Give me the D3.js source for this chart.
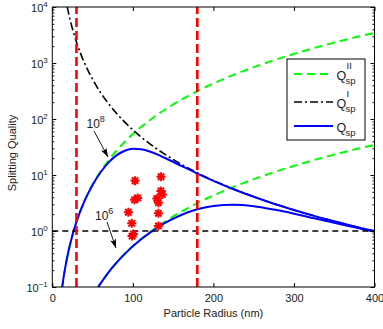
<!DOCTYPE html>
<html>
<head>
<meta charset="utf-8">
<script src="https://cdn.jsdelivr.net/npm/d3@7"></script>
<style>
  body { margin: 0; background: #fff; }
  svg { display: block; font-family: Arial, "Liberation Sans", sans-serif; }
</style>
</head>
<body>
<svg id="chart"></svg>
<script>
const radius = [12, 15, 20, 25, 30, 40, 50, 60, 70, 80, 90, 100, 110, 120, 130, 140, 160, 180, 200, 225, 250, 275, 300, 325, 350, 375, 400];

// Q_sp^I  (dash-dot, black)
const qI = [37037, 18963, 8000, 4096, 2370, 1000, 512, 296, 186.6, 125, 87.8, 64, 48.1, 37.0, 29.1, 23.3, 15.6, 10.97, 8, 5.62, 4.10, 3.08, 2.37, 1.86, 1.49, 1.21, 1];

// Q_sp^II (dashed, green), upper (10^8) and lower (10^6)
const qII8 = [0.093, 0.182, 0.431, 0.842, 1.455, 3.45, 6.74, 11.64, 18.49, 27.6, 39.3, 53.9, 71.8, 93.2, 118.4, 147.9, 220.8, 314.4, 431, 614, 842, 1121, 1455, 1850, 2311, 2843, 3450];
const qII6 = [0.00093, 0.00182, 0.00431, 0.00842, 0.01455, 0.0345, 0.0674, 0.1164, 0.1849, 0.276, 0.393, 0.539, 0.718, 0.932, 1.184, 1.479, 2.208, 3.144, 4.31, 6.14, 8.42, 11.21, 14.55, 18.50, 23.11, 28.43, 34.5];

// Q_sp (solid, blue)
const qSp8 = [0.093, 0.182, 0.431, 0.842, 1.454, 3.44, 6.65, 11.2, 16.8, 22.6, 27.1, 29.3, 28.8, 26.5, 23.4, 20.1, 14.6, 10.6, 7.85, 5.57, 4.08, 3.07, 2.37, 1.86, 1.49, 1.21, 1.0];
const qSp6 = [0.00093, 0.0018, 0.0043, 0.0084, 0.0146, 0.0345, 0.0674, 0.116, 0.185, 0.276, 0.391, 0.534, 0.706, 0.909, 1.14, 1.39, 1.93, 2.44, 2.80, 2.93, 2.76, 2.41, 2.04, 1.69, 1.40, 1.16, 0.97];

// measured points (red asterisks)
const measRadius = [102.7, 135, 106, 102, 136.6, 129.7, 131.7, 94.4, 131.7, 98.6, 131.7, 100.6, 99, 134.8];
const measQ = [7.9, 9.3, 3.9, 3.6, 4.5, 3.8, 3.2, 2.16, 2.07, 1.37, 1.23, 0.88, 0.81, 5.2];

// vertical limits (nm) and threshold line
const limitRadius = [30, 180];
const thresholdQ = 1;

const xTicks = [0, 100, 200, 300, 400];
const yExponents = [-1, 0, 1, 2, 3, 4];
const legendSup = ["II", "I", ""];

const W = 383, H = 329;
const margin = { top: 7, right: 8.5, bottom: 42, left: 52.3 };
const x0 = margin.left, x1 = W - margin.right;
const y0 = margin.top, y1 = H - margin.bottom;

const svg = d3.select("#chart").attr("width", W).attr("height", H);

const x = d3.scaleLinear().domain([0, 400]).range([x0, x1]);
const y = d3.scaleLog().domain([0.1, 1e4]).range([y1, y0]);

svg.append("defs").append("clipPath").attr("id", "plot")
  .append("rect").attr("x", x0).attr("y", y0).attr("width", x1 - x0).attr("height", y1 - y0);

svg.select("defs").append("marker")
  .attr("id", "arrow")
  .attr("markerUnits", "userSpaceOnUse")
  .attr("markerWidth", 12).attr("markerHeight", 10)
  .attr("refX", 9).attr("refY", 0)
  .attr("viewBox", "-1 -5 12 10")
  .attr("orient", "auto")
  .append("path")
  .attr("d", "M0,-3L9,0L0,3L2,0Z")
  .attr("fill", "#000");

const plot = svg.append("g").attr("clip-path", "url(#plot)");

const line = (vals) => d3.line()
  .x((d, i) => x(radius[i]))
  .y((d) => y(d))
  .curve(d3.curveMonotoneX)(vals);

// Q^II (green dashed)
[qII8, qII6].forEach((vals) => {
  plot.append("path").attr("d", line(vals))
    .attr("fill", "none").attr("stroke", "#00ff00")
    .attr("stroke-width", 2).attr("stroke-dasharray", "8,5");
});

// Q^I (black dash-dot)
plot.append("path").attr("d", line(qI))
  .attr("fill", "none").attr("stroke", "#000")
  .attr("stroke-width", 1.6).attr("stroke-dasharray", "8,3,2,3");

// Q_sp (blue)
[qSp8, qSp6].forEach((vals) => {
  plot.append("path").attr("d", line(vals))
    .attr("fill", "none").attr("stroke", "#0000ff")
    .attr("stroke-width", 2);
});

// threshold line at 10^0
plot.append("line")
  .attr("x1", x(0)).attr("x2", x(400))
  .attr("y1", y(thresholdQ)).attr("y2", y(thresholdQ))
  .attr("stroke", "#000").attr("stroke-width", 1.3)
  .attr("stroke-dasharray", "6,4");

// red vertical limits
plot.selectAll(".limit").data(limitRadius).join("line")
  .attr("class", "limit")
  .attr("x1", (d) => x(d)).attr("x2", (d) => x(d))
  .attr("y1", y1).attr("y2", y0)
  .attr("stroke", "#ff0000").attr("stroke-width", 2.6)
  .attr("stroke-dasharray", "9,4");

// measurement asterisks
const star = "M-4.5,0L4.5,0M0,-4.5L0,4.5M-3.2,-3.2L3.2,3.2M-3.2,3.2L3.2,-3.2";
plot.selectAll(".meas").data(measQ).join("path")
  .attr("class", "meas")
  .attr("transform", (d, i) => `translate(${x(measRadius[i])},${y(d)})`)
  .attr("d", star)
  .attr("stroke", "#ff0000").attr("stroke-width", 2)
  .attr("fill", "none");

// annotation arrows
const notes = [
  { exp: "8", tx: 86.5, ty: 127.5, from: [94, 131], to: [108, 157] },
  { exp: "6", tx: 95, ty: 219.5, from: [107, 222], to: [116, 248] }
];
notes.forEach((n) => {
  const t = svg.append("text").attr("x", n.tx).attr("y", n.ty)
    .style("font-size", "12px").attr("fill", "#222");
  t.append("tspan").text("10");
  t.append("tspan").attr("dy", -6).style("font-size", "9px").text(n.exp);
  svg.append("line")
    .attr("x1", n.from[0]).attr("y1", n.from[1])
    .attr("x2", n.to[0]).attr("y2", n.to[1])
    .attr("stroke", "#000").attr("stroke-width", 0.9)
    .attr("marker-end", "url(#arrow)");
});

// axes: ticks on all four sides, pointing inward
const minor = y.ticks().filter((d) => !yExponents.some((e) => Math.abs(d - 10 ** e) < 1e-9 * d));
const styleAxis = (g) => {
  g.select(".domain").remove();
  g.selectAll("line").attr("stroke", "#000");
};

svg.append("g").attr("transform", `translate(0,${y1})`)
  .call(d3.axisBottom(x).tickValues(xTicks).tickSize(-4).tickPadding(7).tickFormat(d3.format("d")))
  .call(styleAxis)
  .selectAll("text").style("font-size", "11px").attr("fill", "#222")
  .style("font-family", "Arial, 'Liberation Sans', sans-serif");

svg.append("g").attr("transform", `translate(0,${y0})`)
  .call(d3.axisTop(x).tickValues(xTicks).tickSize(-4).tickFormat(""))
  .call(styleAxis);

[[d3.axisLeft, x0], [d3.axisRight, x1]].forEach(([axis, pos]) => {
  svg.append("g").attr("transform", `translate(${pos},0)`)
    .call(axis(y).tickValues(yExponents.map((e) => 10 ** e)).tickSize(-4).tickFormat(""))
    .call(styleAxis);
  svg.append("g").attr("transform", `translate(${pos},0)`)
    .call(axis(y).tickValues(minor).tickSize(-2).tickFormat(""))
    .call(styleAxis);
});

// y tick labels as 10^n
svg.selectAll(".ylab").data(yExponents).join("text")
  .attr("class", "ylab")
  .attr("x", x0 - 4.5)
  .attr("y", (d) => y(10 ** d) + 5)
  .attr("text-anchor", "end")
  .attr("fill", "#222")
  .style("font-size", "11px")
  .each(function (d) {
    const t = d3.select(this);
    t.append("tspan").text("10");
    t.append("tspan").attr("dy", -5.5).style("font-size", "8px")
      .text(d < 0 ? "\u2212" + Math.abs(d) : d);
  });

// frame
svg.append("rect")
  .attr("x", x0).attr("y", y0).attr("width", x1 - x0).attr("height", y1 - y0)
  .attr("fill", "none").attr("stroke", "#000").attr("stroke-width", 1);

// axis titles
svg.append("text")
  .attr("x", (x0 + x1) / 2).attr("y", 317)
  .attr("text-anchor", "middle").attr("fill", "#222")
  .style("font-size", "11px")
  .text("Particle Radius (nm)");

svg.append("text")
  .attr("transform", `translate(15.5,${(y0 + y1) / 2 + 6}) rotate(-90)`)
  .attr("text-anchor", "middle").attr("fill", "#222")
  .style("font-size", "11px")
  .text("Splitting Quality");

// legend
const legendItems = [
  { color: "#00ff00", dash: "8,5", width: 2, cy: 74 },
  { color: "#000", dash: "8,3,2,3", width: 1.6, cy: 102 },
  { color: "#0000ff", dash: null, width: 2, cy: 126 }
];
const legend = svg.append("g").attr("id", "legend");
legend.append("rect")
  .attr("x", 287).attr("y", 59).attr("width", 78).attr("height", 81)
  .attr("fill", "#fff").attr("stroke", "#000").attr("stroke-width", 1);

legendItems.forEach((it, i) => {
  legend.append("line")
    .attr("x1", 294).attr("x2", 333).attr("y1", it.cy).attr("y2", it.cy)
    .attr("stroke", it.color).attr("stroke-width", it.width)
    .attr("stroke-dasharray", it.dash);
  legend.append("text").attr("x", 336.5).attr("y", it.cy + 5.5)
    .attr("fill", "#222").style("font-size", "12.5px").text("Q");
  if (legendSup[i]) {
    legend.append("text").attr("x", 346.5).attr("y", it.cy - 5)
      .attr("fill", "#222").style("font-size", "9.5px").text(legendSup[i]);
  }
  legend.append("text").attr("x", 345.5).attr("y", it.cy + 10)
    .attr("fill", "#222").style("font-size", "9.5px").text("sp");
});
</script>
</body>
</html>
